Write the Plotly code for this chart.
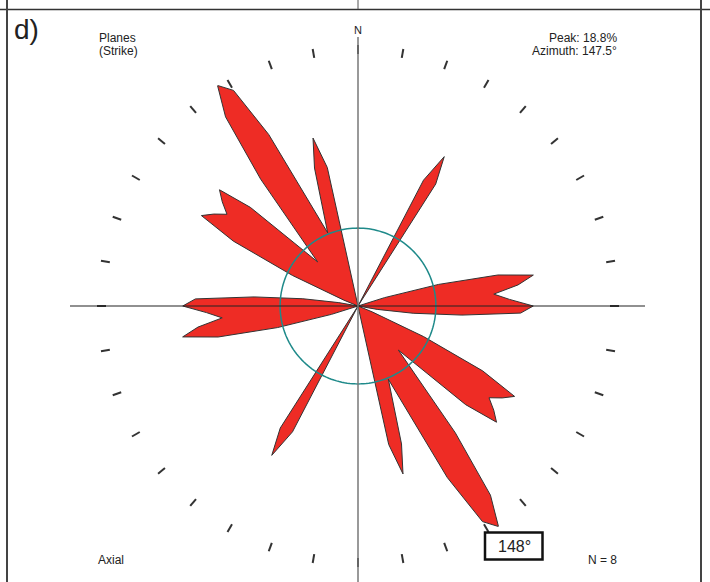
import plotly.graph_objects as go

# Axial rose of plane strikes: smoothed frequency (%) at each azimuth (0-180°),
# the 180-360° half is the axial mirror of the same values.
azimuth = [0, 25, 27.5, 30, 32.5, 35, 70, 72.5, 75, 77.5, 80, 82.5, 85, 87.5, 90,
           92.5, 95, 97.5, 100, 102.5, 110, 112.5, 115, 117.5, 120, 122.5, 125,
           127.5, 130, 132.5, 137.5, 142.5, 145, 147.5, 150, 152.5, 157.5, 162.5,
           165, 167.5, 170, 180]
frequency = [0, 0, 10.2, 12.4, 10.4, 0, 0, 2.0, 6.0, 10.3, 12.8, 11.6, 9.8, 10.9, 12.6,
             11.7, 7.5, 4.0, 1.4, 0, 0, 1.1, 5.2, 10.1, 13.0, 12.3, 11.5,
             12.3, 13.0, 10.5, 4.3, 11.5, 16.6, 18.8, 17.9, 13.9, 5.7, 10.4,
             12.5, 10.2, 0, 0]

peak_value = 18.8
peak_azimuth = 147.5
reference_circle = 5.6
n_planes = 8

theta_all = azimuth + [a + 180 for a in azimuth]
r_all = frequency + frequency

W, H = 710, 582
cx, cy = 358, 306
R_PX = 261.5


def px(x):
    return x / W


def py(y):
    return 1 - y / H


fig = go.Figure()

fig.add_trace(go.Scatterpolar(
    r=r_all, theta=theta_all, mode="lines", fill="toself",
    fillcolor="#ee2c25", line=dict(color="#333333", width=1),
    hoverinfo="skip", showlegend=False))

circle_theta = list(range(0, 361, 2))
fig.add_trace(go.Scatterpolar(
    r=[reference_circle] * len(circle_theta), theta=circle_theta, mode="lines",
    line=dict(color="#1f8a8a", width=1.5), hoverinfo="skip", showlegend=False))

fig.update_layout(
    width=W, height=H,
    margin=dict(l=0, r=0, t=0, b=0),
    paper_bgcolor="white",
    showlegend=False,
    polar=dict(
        domain=dict(x=[px(cx - R_PX), px(cx + R_PX)],
                    y=[py(cy + R_PX), py(cy - R_PX)]),
        bgcolor="rgba(0,0,0,0)",
        radialaxis=dict(visible=False, range=[0, peak_value]),
        angularaxis=dict(rotation=90, direction="clockwise", dtick=10,
                         showline=False, showgrid=False, showticklabels=False,
                         ticks="inside", ticklen=9, tickwidth=1.5,
                         tickcolor="#333333"),
    ),
    font=dict(family="Liberation Sans, Arial, sans-serif", color="#222222"),
)

shapes = []


def seg(x0, y0, x1, y1, color, width):
    shapes.append(dict(type="line", xref="paper", yref="paper",
                       x0=px(x0), y0=py(y0), x1=px(x1), y1=py(y1),
                       line=dict(color=color, width=width), layer="above"))


# panel frame
seg(0, 9.5, W, 9.5, "#333333", 1.5)
seg(7, 0, 7, H, "#444444", 2)
seg(701, 0, 701, H, "#444444", 2)
seg(cx, 0, cx, 9, "#555555", 1)
# compass cross
seg(70, cy, 645, cy, "#222222", 1.2)
seg(cx, 37, cx, H, "#777777", 1.5)

# peak label box
shapes.append(dict(type="rect", xref="paper", yref="paper",
                   x0=px(485), x1=px(542.5), y0=py(559.5), y1=py(532.5),
                   line=dict(color="#111111", width=2.5),
                   fillcolor="white", layer="above"))
fig.update_layout(shapes=shapes)


def label(x, y, text, size, xanchor="center"):
    fig.add_annotation(x=px(x), y=py(y), xref="paper", yref="paper",
                       text=text, showarrow=False, xanchor=xanchor,
                       yanchor="middle", font=dict(size=size))


label(12, 29, "d)", 28, "left")
label(117, 38, "Planes", 12)
label(118, 51, "(Strike)", 12)
label(619, 38, f"Peak: {peak_value}%", 12, "right")
label(619, 51, f"Azimuth: {peak_azimuth}°", 12, "right")
label(cx, 30, "N", 11)
label(111, 560, "Axial", 12)
label(619, 560, f"N = {n_planes}", 12, "right")
label(514, 546, f"{round(peak_azimuth + 0.5):d}°", 16)

fig.write_html("out.html", config={"displayModeBar": False})
